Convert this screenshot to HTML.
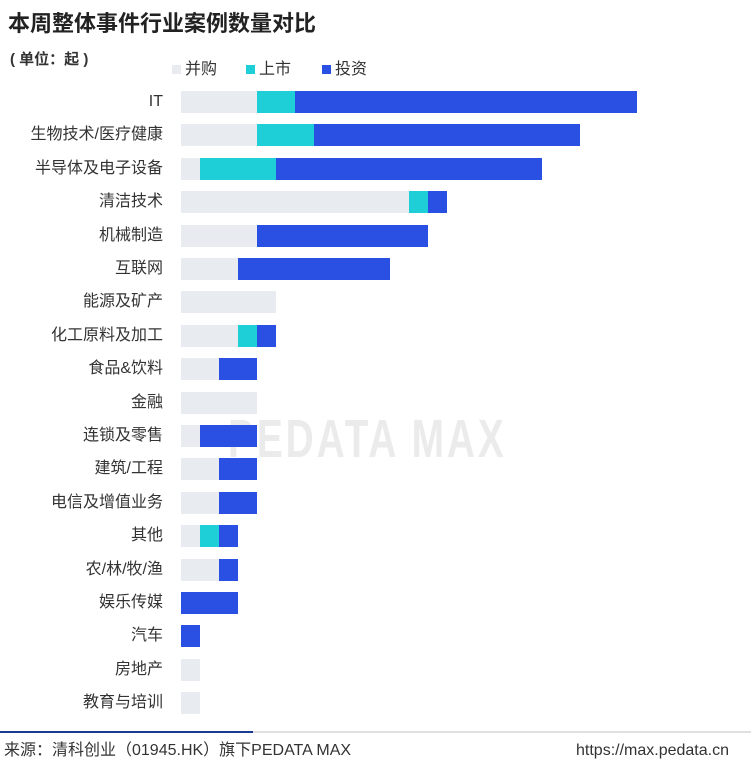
<!DOCTYPE html>
<html><head><meta charset="utf-8"><style>
body{margin:0;width:751px;height:762px;background:#fff;position:relative;overflow:hidden;font-family:"Liberation Sans","Noto Sans CJK SC",sans-serif;}
.t{position:absolute;white-space:nowrap;}
.lab{position:absolute;right:588px;font-size:16px;color:#333;text-align:right;white-space:nowrap;line-height:22px;font-family:"Liberation Sans","Noto Sans CJK SC","WenQuanYi Zen Hei",sans-serif;}
.b{position:absolute;height:22px;}
.g{background:#e8ebf0}.c{background:#1fcfd8}.u{background:#2a50e3}
</style></head><body>
<div class="t" style="left:8px;top:6px;font-size:22px;font-weight:bold;color:#222;">本周整体事件行业案例数量对比</div>
<div class="t" style="left:10px;top:48px;font-size:15px;font-weight:bold;color:#333;">( 单位：起 )</div>
<div class="t" style="left:172px;top:55px;font-size:16px;color:#333;"><span style="display:inline-block;width:9px;height:9px;background:#e8ebf0;margin-right:4px"></span>并购</div>
<div class="t" style="left:246px;top:55px;font-size:16px;color:#333;"><span style="display:inline-block;width:9px;height:9px;background:#1fcfd8;margin-right:4px"></span>上市</div>
<div class="t" style="left:322px;top:55px;font-size:16px;color:#333;"><span style="display:inline-block;width:9px;height:9px;background:#2a50e3;margin-right:4px"></span>投资</div>
<div class="t" style="left:228px;top:408px;font-size:54px;font-weight:bold;color:#ebebeb;letter-spacing:4px;transform:scaleX(0.72);transform-origin:left top;">PEDATA MAX</div>
<div id="chart"></div>
<div style="position:absolute;left:0;top:731px;width:751px;height:2px;background:#e0e0e0"></div>
<div style="position:absolute;left:0;top:731px;width:253px;height:2px;background:#1a3a8f"></div>
<div class="t" style="left:4px;top:741px;font-size:16px;line-height:20px;color:#333;">来源：清科创业（01945.HK）旗下PEDATA MAX</div>
<div class="t" style="right:22px;top:741px;font-size:16px;line-height:20px;color:#333;">https://max.pedata.cn</div>
<script>
var d=[["IT",[181,257,295,637]],["生物技术/医疗健康",[181,257,314,580]],["半导体及电子设备",[181,200,276,542]],["清洁技术",[181,409,428,447]],["机械制造",[181,257,257,428]],["互联网",[181,238,238,390]],["能源及矿产",[181,276,276,276]],["化工原料及加工",[181,238,257,276]],["食品&饮料",[181,219,219,257]],["金融",[181,257,257,257]],["连锁及零售",[181,200,200,257]],["建筑/工程",[181,219,219,257]],["电信及增值业务",[181,219,219,257]],["其他",[181,200,219,238]],["农/林/牧/渔",[181,219,219,238]],["娱乐传媒",[181,181,181,238]],["汽车",[181,181,181,200]],["房地产",[181,200,200,200]],["教育与培训",[181,200,200,200]]];
var h="";d.forEach(function(r,i){var y=Math.round(91+i*33.4),p=r[1];
h+='<div class="lab" style="top:'+y+'px">'+r[0]+'</div>';
if(p[1]>p[0])h+='<div class="b g" style="left:'+p[0]+'px;top:'+y+'px;width:'+(p[1]-p[0])+'px"></div>';
if(p[2]>p[1])h+='<div class="b c" style="left:'+p[1]+'px;top:'+y+'px;width:'+(p[2]-p[1])+'px"></div>';
if(p[3]>p[2])h+='<div class="b u" style="left:'+p[2]+'px;top:'+y+'px;width:'+(p[3]-p[2])+'px"></div>';});
document.getElementById("chart").innerHTML=h;
</script>
</body></html>
